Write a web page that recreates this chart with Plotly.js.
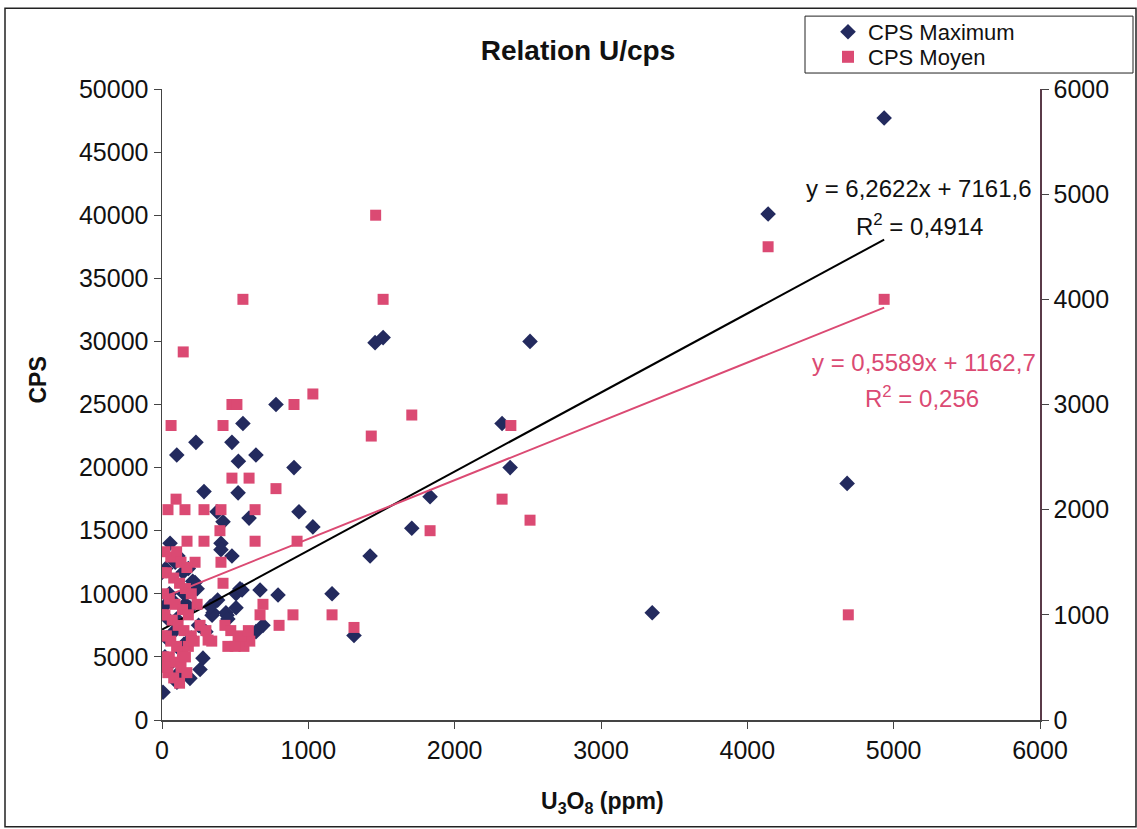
<!DOCTYPE html>
<html>
<head>
<meta charset="utf-8">
<script src="https://cdn.plot.ly/plotly-3.0.1.min.js"></script>
<style>
html,body{margin:0;padding:0;background:#fff;}
#chart{width:1137px;height:829px;}
</style>
</head>
<body>
<div id="chart"></div>
<script>
// CPS Maximum (left axis)
const maxX = [4935,4142,2515,1511,1456,2324,2379,1832,4682,1707,1422,3350,1162,1312,1031,936,902,779,553,232,478,101,642,522,287,520,376,595,417,55,403,403,478,109,670,793,506,533,506,342,444,642,690,280,260,191,102,7,0,144,226,240,14,191,349,437,450,547,20,60,120,150,80,30,100,50,150,180,90,200,250,300,130,40,70,160,210,120,25,330,380];
const maxY = [47700,40100,30000,30300,29900,23500,20000,17700,18750,15200,13000,8500,10000,6700,15300,16500,20000,25000,23500,22000,22000,21000,21000,20500,18100,18000,16500,16000,15700,14000,14000,13500,13000,13000,10300,9900,10000,10400,8900,8300,8300,7000,7500,4900,4000,3300,3000,2200,11700,11700,10900,10400,9000,8900,8500,8500,8000,10300,5000,4500,3800,6000,7000,6500,8000,10000,10000,12000,12500,6500,7500,7000,5500,8000,9500,9200,11000,3400,12000,9000,9500];

// CPS Moyen (right axis)
const moyX = [145,553,1511,1460,4142,4935,62,417,2384,478,512,902,1031,1707,1430,478,595,779,96,2324,41,157,287,403,636,2515,396,1832,171,287,636,923,226,403,417,690,670,895,1162,4690,1312,800,
  20,60,100,130,170,30,80,120,160,200,10,50,90,140,180,240,20,70,110,150,200,260,300,340,30,60,100,140,180,220,10,50,90,130,170,40,80,120,20,160,430,470,520,560,600,315,450,500,540,590,0,0,0];
const moyY = [3500,4000,4000,4800,4500,4000,2800,2800,2800,3000,3000,3000,3100,2900,2700,2300,2300,2200,2100,2100,2000,2000,2000,2000,2000,1900,1800,1800,1700,1700,1700,1700,1500,1500,1300,1100,1000,1000,1000,1000,880,900,
  1600,1550,1600,1500,1450,1400,1350,1300,1250,1200,1200,1150,1100,1050,1000,1100,1000,950,900,850,800,900,850,750,800,750,700,650,700,750,600,600,550,500,450,450,400,350,500,600,900,850,760,700,750,760,700,700,800,850,1000,800,1400];

// Linear trend coefficients [slope, intercept] and x span
const trendMax = [6.2622, 7161.6];
const trendMoy = [0.5589, 1162.7];
const trendSpan = [0, 4935];

const xTicks = [0,1000,2000,3000,4000,5000,6000];

const navy = '#232a5e';
const pink = '#db4a73';
const FONT = 'Liberation Sans, Arial, sans-serif';

const traces = [
  {x:maxX, y:maxY, type:'scatter', mode:'markers', name:'CPS Maximum', legend:'legend',
   marker:{symbol:'diamond', size:12, color:navy}, yaxis:'y'},
  {x:moyX, y:moyY, type:'scatter', mode:'markers', name:'CPS Moyen', legend:'legend2',
   marker:{symbol:'square', size:11, color:pink}, yaxis:'y2'},
  {x:trendSpan, y:trendSpan.map(v=>trendMax[0]*v+trendMax[1]), type:'scatter', mode:'lines',
   line:{color:'#000', width:2}, showlegend:false, hoverinfo:'skip', yaxis:'y'},
  {x:trendSpan, y:trendSpan.map(v=>trendMoy[0]*v+trendMoy[1]), type:'scatter', mode:'lines',
   line:{color:pink, width:2}, showlegend:false, hoverinfo:'skip', yaxis:'y2'}
];

const W = 1137, H = 829, L = 162, R = 97, T = 88, B = 109;
const pw = W - L - R, ph = H - T - B;
const px = v => (v - L) / pw;
const py = v => (H - B - v) / ph;

const TICKF = {family:FONT, size:25, color:'#111'};
const legendBase = {xanchor:'left', yanchor:'middle', bgcolor:'rgba(0,0,0,0)', borderwidth:0,
  font:{family:FONT, size:22, color:'#111'}, itemsizing:'constant'};

const layout = {
  width: W, height: H,
  margin: {l:L, r:R, t:T, b:B},
  paper_bgcolor:'#fff', plot_bgcolor:'#fff',
  font:{family:FONT, size:22, color:'#111'},
  title:{text:'<b>Relation U/cps</b>', x:578/W, xanchor:'center', y:1-50/H, yanchor:'middle',
         font:{family:FONT, size:28, color:'#111'}},
  xaxis:{range:[0,6000], tickvals:xTicks, tickformat:'d', showgrid:false, zeroline:false,
         showline:true, linecolor:'#444', linewidth:1.5, ticks:'outside', ticklen:7, tickcolor:'#444',
         tickfont:TICKF},
  yaxis:{range:[0,50000], dtick:5000, tickformat:'d', showgrid:false, zeroline:false,
         showline:true, linecolor:'#444', linewidth:1.5, ticks:'outside', ticklen:7, tickcolor:'#444',
         tickfont:TICKF},
  yaxis2:{range:[0,6000], dtick:1000, tickformat:'d', overlaying:'y', side:'right', showgrid:false, zeroline:false,
          showline:true, linecolor:'#5a3a48', linewidth:1.5, ticks:'outside', ticklen:7, tickcolor:'#444',
          tickfont:TICKF},
  showlegend:true,
  legend:Object.assign({x:px(828), y:py(32)}, legendBase),
  legend2:Object.assign({x:px(828), y:py(57)}, legendBase),
  shapes:[
    {type:'rect', xref:'paper', yref:'paper', x0:px(5), x1:px(1136), y0:py(827), y1:py(7),
     line:{color:'#222', width:1.5}, fillcolor:'rgba(0,0,0,0)', layer:'below'},
    {type:'rect', xref:'paper', yref:'paper', x0:px(805), x1:px(1133), y0:py(72), y1:py(15),
     line:{color:'#222', width:1}, fillcolor:'#fff', layer:'above'}
  ],
  annotations:[
    {xref:'paper', yref:'paper', x:px(38), y:py(380), xanchor:'center', yanchor:'middle', showarrow:false,
     textangle:-90, text:'<b>CPS</b>', font:{family:FONT, size:23, color:'#111'}},
    {xref:'paper', yref:'paper', x:px(602), y:py(803), xanchor:'center', yanchor:'middle', showarrow:false,
     text:'<b>U<sub>3</sub>O<sub>8</sub> (ppm)</b>', font:{family:FONT, size:23, color:'#111'}},
    {xref:'paper', yref:'paper', x:px(1034), y:py(188), xanchor:'right', yanchor:'middle', showarrow:false,
     text:'y = 6,2622x + 7161,6', font:{family:FONT, size:24, color:'#111'}},
    {xref:'paper', yref:'paper', x:px(985), y:py(224), xanchor:'right', yanchor:'middle', showarrow:false,
     text:'R<sup>2</sup> = 0,4914', font:{family:FONT, size:24, color:'#111'}},
    {xref:'paper', yref:'paper', x:px(1038), y:py(362), xanchor:'right', yanchor:'middle', showarrow:false,
     text:'y = 0,5589x + 1162,7', font:{family:FONT, size:24, color:pink}},
    {xref:'paper', yref:'paper', x:px(981), y:py(396), xanchor:'right', yanchor:'middle', showarrow:false,
     text:'R<sup>2</sup> = 0,256', font:{family:FONT, size:24, color:pink}}
  ]
};

Plotly.newPlot('chart', traces, layout, {displayModeBar:false, staticPlot:true});
</script>
</body>
</html>
